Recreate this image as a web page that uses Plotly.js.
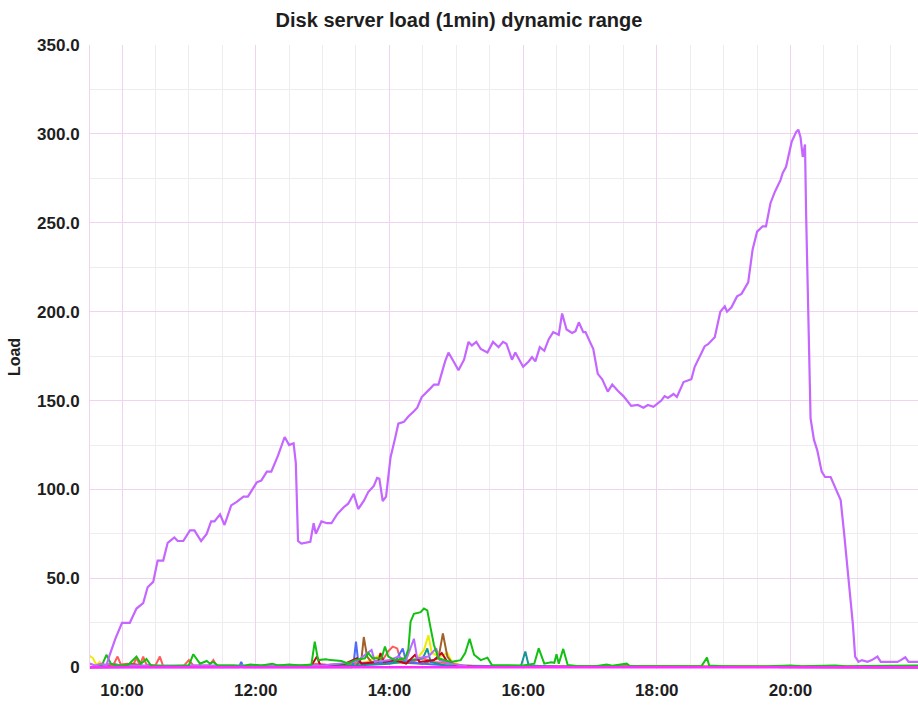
<!DOCTYPE html>
<html>
<head>
<meta charset="utf-8">
<script src="https://cdn.plot.ly/plotly-3.0.1.min.js"></script>
<style>html,body{margin:0;padding:0;background:#fff;}#chart{width:918px;height:708px;}</style>
</head>
<body>
<div id="chart"></div>
<script>
const chartTitle = "Disk server load (1min) dynamic range";
const yTitle = "Load";
const dayPrefix = "2024-01-01 ";
const xRange = ["09:31:17", "21:54:25"];
const xTickVals = ["10:00", "12:00", "14:00", "16:00", "18:00", "20:00"];
const xTickText = ["10:00", "12:00", "14:00", "16:00", "18:00", "20:00"];
const yTickVals = [0, 50, 100, 150, 200, 250, 300, 350];
const yTickText = ["0", "50.0", "100.0", "150.0", "200.0", "250.0", "300.0", "350.0"];

// main (dominant) server
const mainTimes = ["09:31","09:36","09:42","09:46","09:49","09:54","10:00","10:07","10:13","10:19","10:23","10:28","10:32","10:37","10:41","10:47","10:50","10:55","11:01","11:05","11:11","11:16","11:20","11:23","11:28","11:32","11:38","11:43","11:49","11:53","12:01","12:05","12:10","12:14","12:20","12:26","12:30","12:34","12:36","12:38","12:41","12:49","12:52","12:54","12:59","13:04","13:08","13:13","13:19","13:23","13:28","13:32","13:37","13:41","13:46","13:49","13:51","13:54","13:57","14:01","14:05","14:08","14:13","14:17","14:22","14:25","14:29","14:34","14:37","14:40","14:44","14:50","14:53","14:58","15:02","15:07","15:11","15:14","15:18","15:22","15:28","15:33","15:38","15:42","15:45","15:50","15:53","16:00","16:05","16:08","16:11","16:15","16:19","16:23","16:27","16:32","16:35","16:39","16:44","16:47","16:50","16:54","16:56","17:00","17:03","17:07","17:11","17:16","17:20","17:25","17:30","17:37","17:43","17:48","17:52","17:57","18:01","18:04","18:07","18:10","18:15","18:18","18:24","18:31","18:34","18:37","18:43","18:46","18:52","18:57","19:01","19:03","19:07","19:12","19:16","19:22","19:26","19:30","19:35","19:38","19:42","19:46","19:51","19:53","19:56","20:01","20:05","20:07","20:09","20:11","20:13","20:14","20:16","20:18","20:21","20:24","20:28","20:31","20:36","20:40","20:45","20:48","20:51","20:54","20:56","20:58","21:01","21:04","21:09","21:13","21:18","21:21","21:27","21:36","21:39","21:43","21:46","21:55"];
const mainLoad = [2,1,2,1,7,16,25,25,33,36,45,48,60,60,70,73,71,71,77,77,71,75,82,82,86,80,91,93,96,96,104,105,110,110,119,129.5,125,126,115,71,69.5,70.5,81,75,82,81,81,86,90,92,97.5,89,93.5,98.5,102,106.5,106,93.5,96,118,128.5,137,138,141,144,146,152,155.5,157,159,159,172,177,171.5,167,173,183,181,183,179,177,183,180,183,182,173,177,169,172,174.5,172,180,178,184.5,188.5,187,199,190,188,189,194,188.5,188.5,183,179,165,162,155,159,155.5,152.5,147,147.5,146,147.5,146.5,148.6,150,152.5,151.5,153.7,152,160.4,162,169,173,180.6,181.7,185.6,200,203,200,202.5,208.6,210,216.5,235,245,248,248,261,267.5,274,278,281.5,295.5,301,302.4,298,287,294,255,190,140,128,122,110,107,107,101,94,76,56,36,24,6,3,4,3,4,6,3,3,3,4,5.6,3,3];

const greenTimes = ["09:31","09:42","09:46","09:50","09:55","10:05","10:13","10:17","10:22","10:26","10:40","11:00","11:04","11:10","11:16","11:19","11:22","11:26","11:40","11:48","11:55","12:05","12:15","12:20","12:30","12:40","12:50","12:53","12:56","13:03","13:07","13:17","13:23","13:29","13:38","13:41","13:45","13:53","13:56","13:59","14:05","14:14","14:17","14:19","14:22","14:28","14:31","14:34","14:37","14:40","14:44","14:55","15:04","15:08","15:12","15:16","15:22","15:28","15:32","15:45","15:50","16:00","16:10","16:14","16:19","16:25","16:28","16:30","16:32","16:36","16:40","16:50","17:05","17:15","17:20","17:33","17:36","18:00","18:40","18:45","18:47","19:00","19:40","20:00","20:10","20:40","20:50","21:30","21:55"];
const greenLoad = [0,1,7,2,1,1,6,2,4.7,1,0.5,1,7.3,2,3.5,2,3,1,1,0.5,1.5,1,2,1,1.5,1,1.5,14.4,4,4.5,4,3.5,2,4,5,8,5,5,11.6,6,4,5,10,25.6,30,31,33,32,22,12.5,5,3,4,8,16,7,4,5.4,1.3,1,1.3,1,2,10.6,2,2.8,2.5,7.3,2,10.3,1.3,0.5,0.5,1.5,0.8,2,0.5,0.5,0.5,5.4,1,0.5,0.5,1,0.5,1,0.5,0.8,1];

const redTimes = ["09:31","09:52","09:56","09:59","10:05","10:10","10:13","10:16","10:19","10:22","10:30","10:34","10:37","10:55","11:00","11:04","11:18","11:22","11:25","12:40","12:55","13:10","13:30","13:45","13:55","13:59","14:03","14:07","14:10","14:20","14:30","14:40","14:55","15:05","15:20","16:00","18:00","20:00","21:00","21:55"];
const redLoad = [0,1,6,1.5,2,1,5.4,1,6,1.5,1,6,0.5,0.5,4,1,1,4,0.5,0.5,2,1,2,3,5,9,11.6,10.6,4,3,5,3,2,1,0.5,0.5,0.5,0.5,0.5,0.3];

const yellowTimes = ["09:31","09:34","09:37","09:40","09:43","10:00","13:00","13:40","13:52","13:56","14:10","14:25","14:31","14:35","14:38","14:45","14:52","14:56","15:05","15:30","18:00","21:55"];
const yellowLoad = [6.5,5,1.3,3,0.5,0.3,0.5,3,7,2,3,5,9.7,18,8,6,8,3,1,0.3,0.5,0.3];

const brownTimes = ["09:31","09:45","09:52","09:58","10:10","10:20","13:30","13:35","13:37","13:40","13:45","14:00","14:30","14:44","14:48","14:52","14:58","15:10","21:55"];
const brownLoad = [0,1,2,1,2,0.5,0.5,5,17,6,2,3,2,5,19,6,1,0.3,0];

const blueTimes = ["09:31","11:45","11:47","11:49","13:26","13:28","13:30","13:32","13:38","14:05","14:12","14:15","14:30","14:50","15:10","16:00","21:55"];
const blueLoad = [0,0,3,0,0,3,14.4,3,2,3,10.6,3,2,1,0.3,0.3,0];

const tealTimes = ["09:31","13:30","14:00","14:30","14:34","14:37","14:50","15:30","15:58","16:02","16:05","16:30","21:55"];
const tealLoad = [0,1,2,5,10.6,3,1,0.5,0.5,8.8,1,0.3,0];

const darkRedTimes = ["09:31","12:50","12:55","12:58","13:20","13:31","13:35","13:50","13:52","13:55","14:05","14:15","14:23","14:27","14:40","14:47","14:52","15:00","15:20","21:55"];
const darkRedLoad = [0,1,6,1,2,5,2,3,8,3,4,2,7,3,4,8,3,1,0.3,0];

const violetTimes = ["09:31","09:50","10:00","13:00","13:30","13:44","13:47","14:00","14:08","14:15","14:22","14:25","14:35","14:42","14:45","14:55","15:10","21:55"];
const violetLoad = [0,2,1,1,3,9.7,3,4,6,4,16,5,6,10.6,4,2,0.5,0];

const magentaTimes = ["09:31","21:55"];
const magentaLoad = [0,0];

const toDate = t => dayPrefix + (t.length === 5 ? t + ":00" : t);

function line(times, vals, color, width) {
  return {
    type: "scatter", mode: "lines",
    x: times.map(toDate), y: vals,
    line: {color: color, width: width, shape: "linear"},
    hoverinfo: "skip"
  };
}

const data = [
  line(yellowTimes, yellowLoad, "#ecec00", 2),
  line(redTimes, redLoad, "#ff5c5c", 2),
  line(brownTimes, brownLoad, "#a0622a", 2),
  line(blueTimes, blueLoad, "#4d6bff", 2),
  line(tealTimes, tealLoad, "#16959b", 2),
  line(darkRedTimes, darkRedLoad, "#c8001e", 2),
  line(violetTimes, violetLoad, "#b86cff", 2),
  line(greenTimes, greenLoad, "#12c012", 2),
  line(mainTimes, mainLoad, "#c466ff", 2.2),
  line(magentaTimes, magentaLoad, "#ff2cff", 2.5)
];

const majorGrid = "#efd3ef";
const minorGrid = "#f0ebf0";

const layout = {
  width: 918, height: 708,
  margin: {l: 90, r: 0, t: 45, b: 39, pad: 0},
  paper_bgcolor: "#ffffff", plot_bgcolor: "#ffffff",
  showlegend: false,
  font: {family: "Liberation Sans, Arial, sans-serif", size: 17, color: "#1e1e1e", weight: "bold"},
  title: {text: chartTitle, x: 0.5, xref: "container", xanchor: "center",
          y: 1 - 20/708, yref: "container", yanchor: "middle",
          font: {size: 20, weight: "bold", color: "#1e1e1e"}},
  xaxis: {
    type: "date",
    range: xRange.map(toDate),
    tickmode: "array",
    tickvals: xTickVals.map(toDate),
    ticktext: xTickText,
    ticks: "", showline: false, zeroline: false,
    showgrid: true, gridcolor: majorGrid, gridwidth: 1,
    ticklabelstandoff: 9,
    tickfont: {size: 17},
    minor: {tickmode: "linear", tick0: toDate("10:00"), dtick: 30*60*1000, showgrid: true, gridcolor: minorGrid, gridwidth: 1, ticks: ""},
    fixedrange: true
  },
  yaxis: {
    range: [-1, 350],
    tickmode: "array",
    tickvals: yTickVals,
    ticktext: yTickText,
    ticks: "", zeroline: false,
    showline: true, linecolor: majorGrid, linewidth: 1,
    showgrid: true, gridcolor: majorGrid, gridwidth: 1,
    ticklabelstandoff: 6,
    tickfont: {size: 17},
    minor: {tickmode: "linear", tick0: 0, dtick: 25, showgrid: true, gridcolor: minorGrid, gridwidth: 1, ticks: ""},
    title: {text: yTitle, standoff: 12, font: {size: 16, weight: "bold"}},
    fixedrange: true
  }
};

Plotly.newPlot("chart", data, layout, {displayModeBar: false, staticPlot: true});
</script>
</body>
</html>
